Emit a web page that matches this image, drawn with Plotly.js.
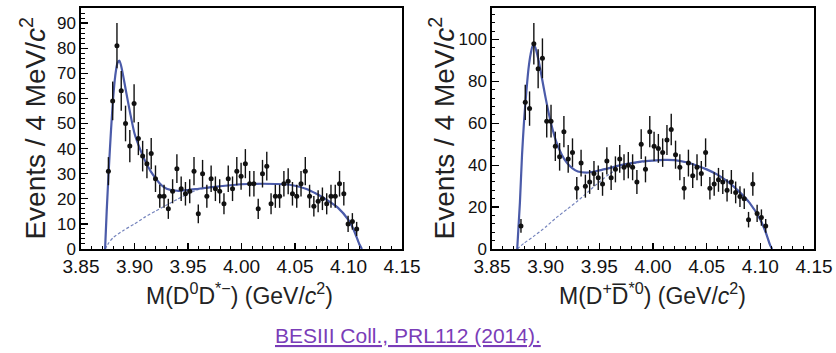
<!DOCTYPE html>
<html>
<head>
<meta charset="utf-8">
<script src="https://cdn.plot.ly/plotly-3.0.1.min.js"></script>
<style>html,body{margin:0;padding:0;background:#fff;}#chart{width:836px;height:353px;}</style>
</head>
<body>
<div id="chart"></div>
<script>
// ---------- Left panel: M(D0 D*-) ----------
const leftX = [3.8756,3.8796,3.8836,3.8876,3.8916,3.8956,3.8996,3.9036,3.9076,3.9116,3.9156,3.9196,3.9236,3.9276,3.9316,3.9356,3.9396,3.9436,3.9476,3.9516,3.9556,3.9596,3.9636,3.9676,3.9716,3.9756,3.9796,3.9836,3.9876,3.9916,3.9956,3.9996,4.0036,4.0076,4.0116,4.0156,4.0196,4.0236,4.0276,4.0316,4.0356,4.0396,4.0436,4.0476,4.0516,4.0556,4.0596,4.0636,4.0676,4.0716,4.0756,4.0796,4.0836,4.0876,4.0916,4.0956,4.0996,4.1036,4.1076];
const leftY = [31,59,81,63,50,41,58,44,37,34,38,28,21,21,16,23,32,24,22,23,31,14,30,21,28,24,23,18,28,24,31,29,34,26,26,16,30,33,18,21,21,26,27,22,21,26,31,21,17,19,20,18,21,21,26,22,10,11,8];
const leftErr = [5.6,7.7,9.0,7.9,7.1,6.4,7.6,6.6,6.1,5.8,6.2,5.3,4.6,4.6,4.0,4.8,5.7,4.9,4.7,4.8,5.6,3.7,5.5,4.6,5.3,4.9,4.8,4.2,5.3,4.9,5.6,5.4,5.8,5.1,5.1,4.0,5.5,5.7,4.2,4.6,4.6,5.1,5.2,4.7,4.6,5.1,5.6,4.6,4.1,4.4,4.5,4.2,4.6,4.6,5.1,4.7,3.2,3.3,2.8];
const leftFitX = [3.8725,3.874,3.876,3.878,3.880,3.882,3.884,3.886,3.888,3.892,3.896,3.900,3.905,3.910,3.915,3.920,3.925,3.930,3.940,3.950,3.960,3.980,4.000,4.020,4.040,4.050,4.060,4.070,4.080,4.090,4.100,4.105,4.110,4.1125];
const leftFitY = [0,15,32,47,60,69,74,75,72,63,54,46,40,35,31,28,25.5,24,23.2,23.5,24,25,25.8,26,25.8,25.2,24,22,19.5,16.5,11.5,7.5,2,0];
const leftBkgX = [3.8725,3.876,3.880,3.890,3.900,3.910,3.920,3.930,3.940,3.950,3.960,3.970,3.980,4.000,4.020,4.040,4.050,4.060,4.070,4.080,4.090,4.100,4.105,4.110,4.1125];
const leftBkgY = [0,2.5,4.5,7.5,10,12.8,15.2,17.5,19.8,22,23.7,24.4,25,25.8,26,25.8,25.2,24,22,19.5,16.5,11.5,7.5,2,0];

// ---------- Right panel: M(D+ D*0bar) ----------
const rightX = [3.877,3.881,3.885,3.889,3.893,3.897,3.901,3.905,3.909,3.913,3.917,3.921,3.925,3.929,3.933,3.937,3.941,3.945,3.949,3.953,3.957,3.961,3.965,3.969,3.973,3.977,3.981,3.985,3.989,3.993,3.997,4.001,4.005,4.009,4.013,4.017,4.021,4.025,4.029,4.033,4.037,4.041,4.045,4.049,4.053,4.057,4.061,4.065,4.069,4.073,4.077,4.081,4.085,4.089,4.093,4.097,4.101,4.105];
const rightY = [11,70,67,98,86,91,61,61,49,44,56,43,46,29,41,30,32,36,34,31,42,34,38,43,39,40,39,32,50,38,56,49,48,46,52,57,45,39,29,41,35,39,36,46,29,31,33,32,28,32,27,25,24,14,31,17,15,11];
const rightErr = [3.3,8.4,8.2,9.9,9.3,9.5,7.8,7.8,7.0,6.6,7.5,6.6,6.8,5.4,6.4,5.5,5.7,6.0,5.8,5.6,6.5,5.8,6.2,6.6,6.2,6.3,6.2,5.7,7.1,6.2,7.5,7.0,6.9,6.8,7.2,7.5,6.7,6.2,5.4,6.4,5.9,6.2,6.0,6.8,5.4,5.6,5.7,5.7,5.3,5.7,5.2,5.0,4.9,3.7,5.6,4.1,3.9,3.3];
const rightFitX = [3.8735,3.876,3.878,3.880,3.882,3.884,3.886,3.888,3.890,3.893,3.896,3.900,3.905,3.910,3.915,3.920,3.925,3.930,3.940,3.950,3.960,3.970,3.980,3.990,4.000,4.010,4.020,4.030,4.040,4.050,4.060,4.070,4.080,4.090,4.100,4.105,4.109,4.111];
const rightFitY = [0,22,45,62,75,86,93,97,96.5,91,83,72,60,51,45,41,38.5,37,36.5,37.5,38.7,40,41,41.8,42.2,42.5,42.4,41.5,40,38,35.5,32,27.5,22,14,8,2,0];
const rightBkgX = [3.8735,3.880,3.890,3.900,3.910,3.920,3.930,3.940,3.950,3.960,3.970,3.980,3.990,4.000,4.010,4.020,4.030,4.040,4.050,4.060,4.070,4.080,4.090,4.100,4.105,4.109,4.111];
const rightBkgY = [0,2.8,6.5,10.5,15,19,23,27.5,32,36,38.8,40.5,41.5,42.2,42.5,42.4,41.5,40,38,35.5,32,27.5,22,14,8,2,0];

// ---------- Text ----------
const xTickVals = [3.85,3.90,3.95,4.00,4.05,4.10,4.15];
const xTickText = ['3.85','3.90','3.95','4.00','4.05','4.10','4.15'];
const leftXTitle = 'M(D<sup>0</sup>D<sup>*\u2212</sup>) (GeV/<i>c</i><sup>2</sup>)';
const rightXTitle = 'M(D<sup>+</sup>D\u0305<sup>*0</sup>) (GeV/<i>c</i><sup>2</sup>)';
const yTitle = 'Events / 4 MeV/<i>c</i><sup>2</sup>';
const caption = '<u>BESIII Coll., PRL112 (2014).</u>';

const FONT = 'Liberation Sans, Arial, Helvetica, sans-serif';
const fitColor = '#4b5ba9';
const bkgColor = '#7584bd';

function dataTrace(x, y, e, xa, ya) {
  return {x: x, y: y, xaxis: xa, yaxis: ya, type: 'scatter', mode: 'markers',
    marker: {color: '#111', size: 5},
    error_y: {type: 'data', array: e, visible: true, color: '#111', thickness: 1.4, width: 0},
    hoverinfo: 'skip', showlegend: false};
}
function lineTrace(x, y, xa, ya, color, width, dash) {
  return {x: x, y: y, xaxis: xa, yaxis: ya, type: 'scatter', mode: 'lines',
    line: {color: color, width: width, dash: dash, shape: 'spline', smoothing: 0.6},
    hoverinfo: 'skip', showlegend: false};
}

const traces = [
  lineTrace(leftBkgX, leftBkgY, 'x', 'y', bkgColor, 1.2, '3px,2px'),
  lineTrace(leftFitX, leftFitY, 'x', 'y', fitColor, 2.2, 'solid'),
  dataTrace(leftX, leftY, leftErr, 'x', 'y'),
  lineTrace(rightBkgX, rightBkgY, 'x2', 'y2', bkgColor, 1.2, '3px,2px'),
  lineTrace(rightFitX, rightFitY, 'x2', 'y2', fitColor, 2.2, 'solid'),
  dataTrace(rightX, rightY, rightErr, 'x2', 'y2')
];

function xAxis(domain, anchor) {
  return {domain: domain, anchor: anchor, range: [3.85, 4.15],
    tickvals: xTickVals, ticktext: xTickText,
    ticks: 'inside', ticklen: 6, tickwidth: 1.2, tickcolor: '#000',
    minor: {ticks: 'inside', ticklen: 3, dtick: 0.01, tick0: 3.85, tickcolor: '#000', tickwidth: 1},
    showline: true, linecolor: '#000', linewidth: 1.6, mirror: true,
    showgrid: false, zeroline: false, fixedrange: true,
    tickfont: {family: FONT, size: 19, color: '#111'}};
}
function yAxis(range, dtick, minorDtick, anchor) {
  return {domain: [0.2946, 0.9773], anchor: anchor, range: range,
    dtick: dtick, tick0: 0,
    ticks: 'inside', ticklen: 7, tickwidth: 1.2, tickcolor: '#000',
    minor: {ticks: 'inside', ticklen: 3.5, dtick: minorDtick, tick0: 0, tickcolor: '#000', tickwidth: 1},
    showline: true, linecolor: '#000', linewidth: 1.6, mirror: true,
    showgrid: false, zeroline: false, fixedrange: true,
    tickfont: {family: FONT, size: 17, color: '#111'}};
}

const layout = {
  width: 836, height: 353,
  margin: {l: 0, r: 0, t: 0, b: 0},
  paper_bgcolor: '#fff', plot_bgcolor: '#fff',
  xaxis: xAxis([0.0969, 0.4809], 'y'),
  yaxis: yAxis([0, 96], 10, 2, 'x'),
  xaxis2: xAxis([0.5885, 0.9737], 'y2'),
  yaxis2: yAxis([0, 115], 20, 4, 'x2'),
  annotations: [
    {text: yTitle, xref: 'paper', yref: 'paper', x: 0.0400, y: 0.637, textangle: -90,
     xanchor: 'center', yanchor: 'middle', showarrow: false,
     font: {family: FONT, size: 28, color: '#222'}},
    {text: yTitle, xref: 'paper', yref: 'paper', x: 0.529, y: 0.637, textangle: -90,
     xanchor: 'center', yanchor: 'middle', showarrow: false,
     font: {family: FONT, size: 28, color: '#222'}},
    {text: leftXTitle, xref: 'paper', yref: 'paper', x: 0.2859, y: 1 - 294/353,
     xanchor: 'center', yanchor: 'middle', showarrow: false,
     font: {family: FONT, size: 23, color: '#222'}},
    {text: rightXTitle, xref: 'paper', yref: 'paper', x: 0.7811, y: 1 - 294/353,
     xanchor: 'center', yanchor: 'middle', showarrow: false,
     font: {family: FONT, size: 23, color: '#222'}},
    {text: caption, xref: 'paper', yref: 'paper', x: 0.488, y: 1 - 335/353,
     xanchor: 'center', yanchor: 'middle', showarrow: false,
     font: {family: FONT, size: 21, color: '#7a3db8'}}
  ]
};

Plotly.newPlot('chart', traces, layout, {displayModeBar: false, staticPlot: true});
</script>
</body>
</html>
